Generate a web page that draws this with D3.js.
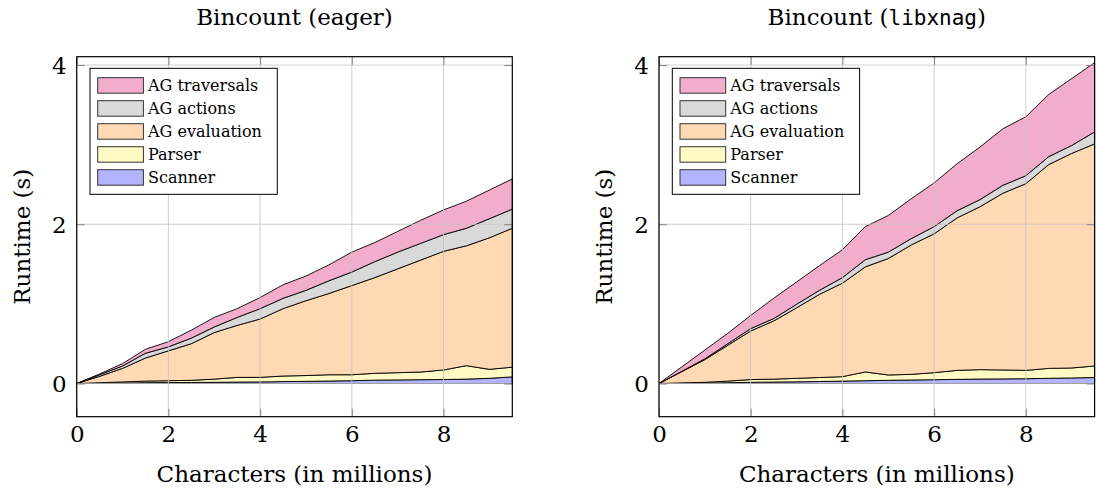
<!DOCTYPE html>
<html>
<head>
<meta charset="utf-8">
<title>Bincount runtime</title>
<style>
  body { margin: 0; background: #fff; }
  svg text { font-family: "DejaVu Serif", serif; fill: #000; }
  .mono { font-family: "DejaVu Sans Mono", monospace; }
</style>
</head>
<body>
<script src="https://d3js.org/d3.v7.min.js"></script>
<script>

// characters (in millions)
var chars = [0, 0.5, 1, 1.5, 2, 2.5, 3, 3.5, 4, 4.5, 5, 5.5, 6, 6.5, 7, 7.5, 8, 8.5, 9, 9.5];

// stacked bottom to top
var keys = ["Scanner", "Parser", "AG evaluation", "AG actions", "AG traversals"];
var colors = ["#b3b3ff", "#fffac4", "#ffd9b3", "#d9d9d9", "#f2adcc"];
var xTicks = [0, 2, 4, 6, 8];
var yTicks = [0, 2, 4];

// Bincount (eager), seconds
var eagerScanner    = [0, 0.003, 0.006, 0.01, 0.012, 0.013, 0.015, 0.018, 0.02, 0.024, 0.027, 0.031, 0.035, 0.042, 0.045, 0.048, 0.05, 0.055, 0.065, 0.083];
var eagerParser     = [0, 0.007, 0.014, 0.02, 0.023, 0.027, 0.04, 0.059, 0.057, 0.07, 0.073, 0.079, 0.075, 0.086, 0.091, 0.096, 0.12, 0.169, 0.113, 0.122];
var eagerEvaluation = [0, 0.08, 0.17, 0.29, 0.375, 0.46, 0.585, 0.653, 0.733, 0.846, 0.94, 1.02, 1.12, 1.202, 1.304, 1.406, 1.49, 1.506, 1.652, 1.745];
var eagerActions    = [0, 0.02, 0.03, 0.06, 0.05, 0.07, 0.07, 0.10, 0.13, 0.13, 0.13, 0.16, 0.17, 0.20, 0.21, 0.21, 0.21, 0.22, 0.24, 0.24];
var eagerTraversals = [0, 0.01, 0.03, 0.05, 0.065, 0.10, 0.12, 0.11, 0.14, 0.17, 0.18, 0.20, 0.25, 0.24, 0.26, 0.29, 0.31, 0.34, 0.36, 0.38];

// Bincount (libxnag), seconds
var libScanner    = [0, 0.002, 0.005, 0.01, 0.015, 0.018, 0.021, 0.025, 0.03, 0.035, 0.04, 0.044, 0.048, 0.052, 0.056, 0.058, 0.06, 0.065, 0.07, 0.075];
var libParser     = [0, 0.006, 0.01, 0.02, 0.035, 0.037, 0.044, 0.05, 0.056, 0.11, 0.067, 0.071, 0.088, 0.113, 0.118, 0.112, 0.105, 0.125, 0.125, 0.145];
var libEvaluation = [0, 0.142, 0.285, 0.45, 0.61, 0.73, 0.885, 1.045, 1.174, 1.32, 1.463, 1.625, 1.744, 1.915, 2.046, 2.22, 2.345, 2.56, 2.695, 2.79];
var libActions    = [0, 0.005, 0.01, 0.02, 0.03, 0.03, 0.045, 0.05, 0.07, 0.09, 0.08, 0.08, 0.09, 0.09, 0.09, 0.10, 0.10, 0.10, 0.10, 0.15];
var libTraversals = [0, 0.055, 0.11, 0.13, 0.165, 0.255, 0.28, 0.31, 0.35, 0.415, 0.46, 0.50, 0.55, 0.59, 0.66, 0.71, 0.74, 0.78, 0.84, 0.87];

var panels = [
  { left: 76.7, title: ["Bincount (eager)", "", ""],
    series: [eagerScanner, eagerParser, eagerEvaluation, eagerActions, eagerTraversals] },
  { left: 659, title: ["Bincount (", "libxnag", ")"],
    series: [libScanner, libParser, libEvaluation, libActions, libTraversals] }
];

var plotTop = 56.7, width = 435.6, height = 360;

var svg = d3.select("body").append("svg")
    .attr("width", 1096)
    .attr("height", 495);

var x = d3.scaleLinear().domain([0, 9.5]).range([0, width]);
var y = d3.scaleLinear().domain([-0.417, 4.105]).range([height, 0]);

panels.forEach(function(p) {
  var g = svg.append("g").attr("transform", "translate(" + p.left + "," + plotTop + ")");

  // build rows for the stack
  var rows = chars.map(function(c, i) {
    var r = { x: c };
    keys.forEach(function(k, j) { r[k] = p.series[j][i]; });
    return r;
  });
  var stacked = d3.stack().keys(keys)(rows);

  var area = d3.area()
      .x(function(d) { return x(d.data.x); })
      .y0(function(d) { return y(d[0]); })
      .y1(function(d) { return y(d[1]); });

  g.selectAll(".layer")
    .data(stacked)
    .enter().append("path")
      .attr("class", "layer")
      .attr("d", area)
      .attr("fill", function(d, i) { return colors[i]; })
      .attr("stroke", "#000")
      .attr("stroke-width", 0.9)
      .attr("stroke-linejoin", "round");

  // grid on top of the fills
  g.selectAll(".vgrid").data(xTicks).enter().append("line")
      .attr("x1", function(d) { return x(d); }).attr("x2", function(d) { return x(d); })
      .attr("y1", 0).attr("y2", height)
      .attr("stroke", "#c4c4c4").attr("stroke-width", 0.8);
  g.selectAll(".hgrid").data(yTicks).enter().append("line")
      .attr("y1", function(d) { return y(d); }).attr("y2", function(d) { return y(d); })
      .attr("x1", 0).attr("x2", width)
      .attr("stroke", "#c4c4c4").attr("stroke-width", 0.8);

  // axes, ticks inside on all four sides
  var xb = g.append("g").attr("transform", "translate(0," + height + ")")
      .call(d3.axisBottom(x).tickValues(xTicks).tickFormat(d3.format("d"))
        .tickSizeInner(-8).tickSizeOuter(0).tickPadding(9));
  var xt = g.append("g")
      .call(d3.axisTop(x).tickValues(xTicks).tickSizeInner(-8).tickSizeOuter(0).tickFormat(""));
  var yl = g.append("g")
      .call(d3.axisLeft(y).tickValues(yTicks).tickFormat(d3.format("d"))
        .tickSizeInner(-8).tickSizeOuter(0).tickPadding(10));
  var yr = g.append("g").attr("transform", "translate(" + width + ",0)")
      .call(d3.axisRight(y).tickValues(yTicks).tickSizeInner(-8).tickSizeOuter(0).tickFormat(""));

  [xb, xt, yl, yr].forEach(function(a) {
    a.select(".domain").remove();
    a.selectAll("line").attr("stroke", "#777").attr("stroke-width", 0.9);
    a.selectAll("text").style("font-family", "DejaVu Serif").style("font-size", "23px").attr("fill", "#000");
  });
  yl.selectAll("text").attr("dy", "0.36em");

  g.append("rect")
      .attr("width", width).attr("height", height)
      .attr("fill", "none").attr("stroke", "#000").attr("stroke-width", 1.2);

  // legend, top entry first
  var lg = g.append("g").attr("transform", "translate(13.3,11.6)");
  lg.append("rect")
      .attr("width", 187.3).attr("height", 126)
      .attr("fill", "#fff").attr("stroke", "#000").attr("stroke-width", 1);
  var order = keys.slice().reverse();
  order.forEach(function(k, i) {
    var row = lg.append("g").attr("transform", "translate(0," + (9.4 + i * 23) + ")");
    row.append("rect")
        .attr("x", 7.7).attr("width", 45.7).attr("height", 15.5)
        .attr("fill", colors[keys.indexOf(k)])
        .attr("stroke", "#333").attr("stroke-width", 1);
    row.append("text")
        .attr("x", 58).attr("y", 13.6)
        .style("font-size", "16px")
        .text(k);
  });

  // axis labels
  g.append("text")
      .attr("x", width / 2).attr("y", 481.7 - plotTop)
      .attr("text-anchor", "middle")
      .style("font-size", "23px")
      .text("Characters (in millions)");

  g.append("text")
      .attr("transform", "translate(-47," + (height / 2) + ") rotate(-90)")
      .attr("text-anchor", "middle")
      .style("font-size", "23px")
      .text("Runtime (s)");

  var t = g.append("text")
      .attr("x", width / 2).attr("y", 25 - plotTop)
      .attr("text-anchor", "middle")
      .style("font-size", "23px");
  t.append("tspan").text(p.title[0]);
  if (p.title[1]) {
    t.append("tspan").attr("class", "mono").style("font-size", "21px").text(p.title[1]);
    t.append("tspan").text(p.title[2]);
  }
});

</script>
</body>
</html>
